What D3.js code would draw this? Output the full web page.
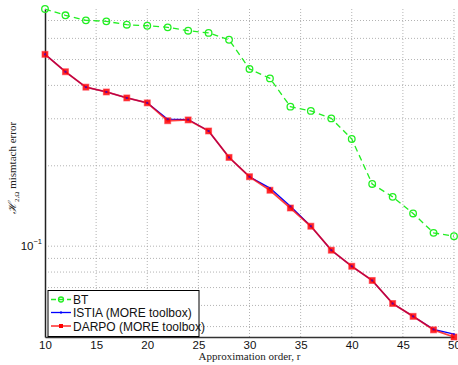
<!DOCTYPE html>
<html><head><meta charset="utf-8">
<script src="https://cdn.jsdelivr.net/npm/d3@7"></script>
<style>body{margin:0;background:#fff}svg{display:block}</style>
</head><body>
<script>
const orders = [10,12,14,16,18,20,22,24,26,28,30,32,34,36,38,40,42,44,46,48,50];
const bt    = [0.773,0.732,0.701,0.695,0.675,0.669,0.660,0.641,0.629,0.593,0.461,0.425,0.333,0.321,0.301,0.252,0.171,0.153,0.1326,0.1122,0.109];
const istia = [0.523,0.450,0.394,0.378,0.359,0.344,0.299,0.298,0.270,0.215,0.182,0.165,0.141,0.1188,0.0966,0.0841,0.0744,0.061,0.0546,0.0488,0.0468];
const darpo = [0.523,0.450,0.394,0.378,0.359,0.344,0.295,0.297,0.270,0.215,0.182,0.162,0.139,0.1188,0.0966,0.0841,0.0744,0.061,0.0546,0.0486,0.0457];
const xTicks = [10,15,20,25,30,35,40,45,50];
const yGrid = [0.05,0.06,0.07,0.08,0.09,0.1,0.2,0.3,0.4,0.5,0.6,0.7];
const yDomain = [0.0457, 0.773];
const xDomain = [10, 50];
const legendLabels = ["BT","ISTIA (MORE toolbox)","DARPO (MORE toolbox)"];

const W=458,H=365, L=45, R=454, T=9, B=337;
const svg=d3.select("body").append("svg").attr("width",W).attr("height",H);
const x=d3.scaleLinear().domain(xDomain).range([L,R]);
const y=d3.scaleLog().domain(yDomain).range([B,T]);

// grid
const g=svg.append("g");
g.selectAll(".gx").data(xTicks.slice(1)).join("line")
 .attr("x1",d=>x(d)).attr("x2",d=>x(d)).attr("y1",T).attr("y2",B)
 .attr("stroke","#a0a0a0").attr("stroke-width",0.8).attr("stroke-dasharray","1,2");
g.selectAll(".gy").data(yGrid).join("line")
 .attr("x1",L).attr("x2",R).attr("y1",d=>y(d)).attr("y2",d=>y(d))
 .attr("stroke","#a0a0a0").attr("stroke-width",0.8).attr("stroke-dasharray","1,2");

// axes
const xAxis=d3.axisBottom(x).tickValues(xTicks).tickSize(0).tickPadding(0).tickFormat(d3.format("d"));
const ax=svg.append("g").attr("transform",`translate(0,${B})`).call(xAxis);
ax.select(".domain").attr("stroke","#333").attr("stroke-width",1.5);
ax.selectAll("text").attr("y",12).attr("dy",0).attr("font-family","Liberation Sans, Arial, sans-serif").attr("font-size",11.5).attr("fill","#111");
const yAxis=d3.axisLeft(y).tickValues([0.1]).tickSize(0).tickFormat(()=>"");
const ay=svg.append("g").attr("transform",`translate(${L},0)`).call(yAxis);
ay.select(".domain").attr("stroke","#222").attr("stroke-width",1.5);
// 10^-1 label
const tl=svg.append("text").attr("x",42).attr("y",y(0.1)+4).attr("text-anchor","end")
 .attr("font-family","Liberation Sans, Arial, sans-serif").attr("font-size",11.5).attr("fill","#111");
tl.append("tspan").text("10");
tl.append("tspan").attr("dy",-6).attr("font-size",7.5).text("−1");

// labels
svg.append("text").attr("x",(L+R)/2).attr("y",360).attr("text-anchor","middle")
 .attr("font-family","Liberation Serif, Times New Roman, serif").attr("font-size",11).attr("fill","#222")
 .text("Approximation order, r");
const yl=svg.append("text").attr("transform","translate(16,168) rotate(-90)").attr("text-anchor","middle")
 .attr("font-family","Liberation Serif, Times New Roman, serif").attr("font-size",11).attr("fill","#222");
yl.append("tspan").attr("font-family","DejaVu Serif, serif").attr("font-style","italic").text("ℋ");
yl.append("tspan").attr("font-size",7).attr("dy",3).text("2,Ω");
yl.append("tspan").attr("dy",-3).text(" mismtach error");

const line=d3.line().x((d,i)=>x(orders[i])).y(d=>y(d));

// BT
svg.append("path").datum(bt).attr("d",line).attr("fill","none").attr("stroke","#22ee22").attr("stroke-width",1.3).attr("stroke-dasharray","6,4");
svg.selectAll(".btm").data(bt).join("circle").attr("cx",(d,i)=>x(orders[i])).attr("cy",d=>y(d)).attr("r",3.3)
 .attr("fill","none").attr("stroke","#22ee22").attr("stroke-width",1.3);
// ISTIA
svg.append("path").datum(istia).attr("d",line).attr("fill","none").attr("stroke","#0000ff").attr("stroke-width",1.3);
// DARPO
svg.append("path").datum(darpo).attr("d",line).attr("fill","none").attr("stroke","#ff0000").attr("stroke-opacity",0.75).attr("stroke-width",1.8);
svg.selectAll(".dm").data(darpo).join("rect").attr("x",(d,i)=>x(orders[i])-3).attr("y",d=>y(d)-3).attr("width",6).attr("height",6)
 .attr("fill","#ff0000").attr("fill-opacity",0.85).attr("stroke","#ff3344").attr("stroke-opacity",0.6);
svg.selectAll(".im").data(istia).join("rect").attr("x",(d,i)=>x(orders[i])-1).attr("y",d=>y(d)-1).attr("width",2).attr("height",2)
 .attr("fill","#0000ff").attr("opacity",0.6);

// legend
const lg=svg.append("g");
lg.append("rect").attr("x",48).attr("y",290.5).attr("width",151).attr("height",46).attr("fill","#fff").attr("stroke","#000").attr("stroke-width",1);
const ly=[299.5,312.5,326];
const lgFont="Liberation Sans, Arial, sans-serif";
lg.append("line").attr("x1",51).attr("x2",71).attr("y1",ly[0]).attr("y2",ly[0]).attr("stroke","#22ee22").attr("stroke-width",1.3).attr("stroke-dasharray","5,3");
lg.append("circle").attr("cx",61).attr("cy",ly[0]).attr("r",2.5).attr("fill","none").attr("stroke","#22ee22").attr("stroke-width",1.3);
lg.append("line").attr("x1",51).attr("x2",71).attr("y1",ly[1]).attr("y2",ly[1]).attr("stroke","#0000ff").attr("stroke-width",1.3);
lg.append("rect").attr("x",60).attr("y",ly[1]-1).attr("width",2).attr("height",2).attr("fill","#0000ff");
lg.append("line").attr("x1",51).attr("x2",71).attr("y1",ly[2]).attr("y2",ly[2]).attr("stroke","#ff0000").attr("stroke-opacity",0.7).attr("stroke-width",1.8);
lg.append("rect").attr("x",59).attr("y",ly[2]-2).attr("width",4).attr("height",4).attr("fill","#ff0000");
lg.selectAll(".lt").data(legendLabels).join("text").attr("x",73).attr("y",(d,i)=>ly[i]+4.5)
 .attr("font-family",lgFont).attr("font-size",12).attr("fill","#111").text(d=>d);
</script>
</body></html>
